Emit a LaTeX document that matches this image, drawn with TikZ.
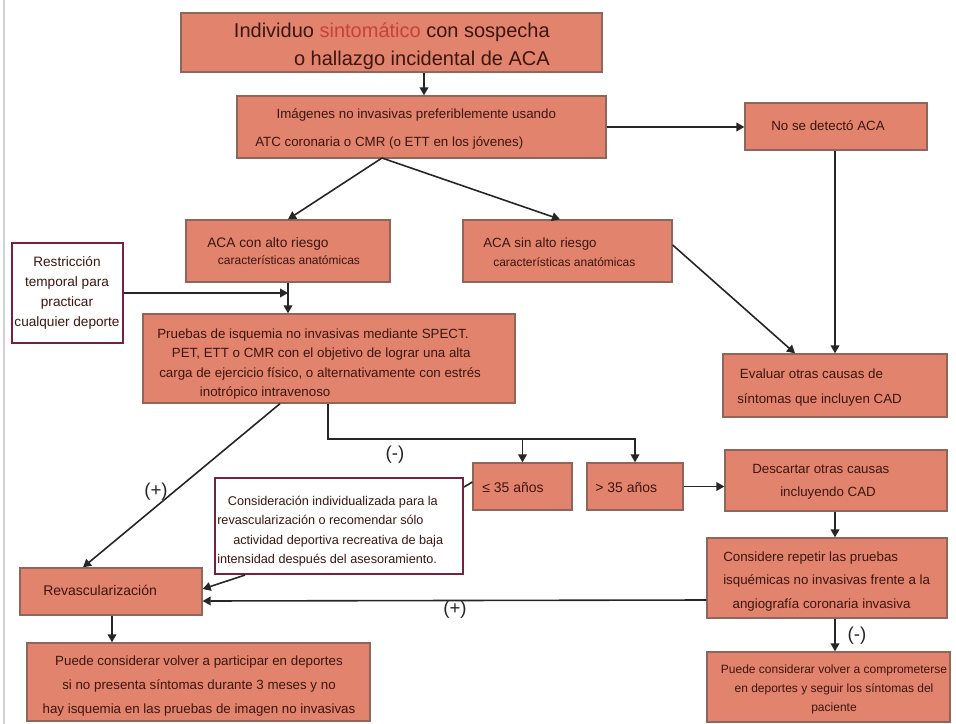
\documentclass[tikz,border=0pt]{standalone}
\usepackage{fontspec}
\setmainfont{Liberation Sans}
\usetikzlibrary{fit,arrows.meta}

\definecolor{boxfill}{HTML}{E2836D}
\definecolor{boxline}{HTML}{8E665C}
\definecolor{ink}{HTML}{3C160F}
\definecolor{redword}{HTML}{C8413A}
\definecolor{noteline}{HTML}{7A1F3D}

\tikzset{
  box/.style={draw=boxline, fill=boxfill, line width=1pt, inner sep=0pt},
  notebox/.style={draw=noteline, fill=white, line width=1.6pt, inner sep=0pt},
  txt/.style={inner sep=0pt, text=ink, font=\fontsize{10}{14.5}\selectfont},
  lbl/.style={inner sep=0pt, text=black!85, font=\fontsize{14}{16}\selectfont},
  arr/.style={draw=black!85, line width=1.2pt, -{Triangle[length=6pt,width=6.5pt]}},
  plain/.style={draw=black!85, line width=1.2pt}
}

\begin{document}
\begin{tikzpicture}[x=0.75pt, y=-0.75pt]
\useasboundingbox (0,0) rectangle (956,724);
\draw[black!18, line width=0.8pt] (4,0) -- (4,724);

% boxes
\node[box, fit={(181,13) (602,72)}] (top) {};
\node[box, fit={(237,96) (606,158)}] (img) {};
\node[box, fit={(745,103) (927,150)}] (nodet) {};
\node[box, fit={(186,220) (390,282)}] (acacon) {};
\node[box, fit={(463,220) (672,282)}] (acasin) {};
\node[notebox, fit={(12,243) (123,343)}] (restr) {};
\node[box, fit={(143,314) (515,403)}] (pruebas) {};
\node[box, fit={(723,354) (947,417)}] (evaluar) {};
\node[box, fit={(473,463) (572,510)}] (le35) {};
\node[box, fit={(587,463) (683,510)}] (gt35) {};
\node[box, fit={(725,450) (947,511)}] (descartar) {};
\node[box, fit={(707,538) (947,618)}] (considere) {};
\node[box, fit={(707,652) (950,722)}] (puede2) {};
\node[notebox, fit={(215,478) (463,574)}] (consid) {};
\node[box, fit={(20,568) (202,615)}] (revasc) {};
\node[box, fit={(27,643) (370,721)}] (puede1) {};

% texts
\node[txt, font=\fontsize{15}{21}\selectfont, align=right, anchor=east] (topt) at (550,46)
  {Individuo \textcolor{redword}{sintomático} con sospecha\\o hallazgo incidental de ACA};
\node[txt, font=\fontsize{10}{21}\selectfont, align=left, anchor=west] (imgt) at (255,129)
  {\hspace*{16pt}Imágenes no invasivas preferiblemente usando\\ATC coronaria o CMR (o ETT en los jóvenes)};
\node[txt] (nodett) at (828,126) {No se detectó ACA};
\node[txt, font=\fontsize{10.3}{12.75}\selectfont, align=left, anchor=west] (acacont) at (207,251.5)
  {ACA con alto riesgo\\\hspace*{8pt}{\fontsize{9}{12.75}\selectfont características anatómicas}};
\node[txt, font=\fontsize{10}{14}\selectfont, align=left, anchor=west] (acasint) at (483,252.5)
  {ACA sin alto riesgo\\\hspace*{7.5pt}{\fontsize{9}{14}\selectfont características anatómicas}};
\node[txt, font=\fontsize{10.2}{15}\selectfont, align=center] (restrt) at (67,293)
  {Restricción\\temporal para\\practicar\\cualquier deporte};
\node[txt, font=\fontsize{10}{14.5}\selectfont, align=left, anchor=west] (pruebast) at (157,364)
  {Pruebas de isquemia no invasivas mediante SPECT.\\
   \hspace*{11pt}PET, ETT o CMR con el objetivo de lograr una alta\\
   \hspace*{1.5pt}carga de ejercicio físico, o alternativamente con estrés\\
   \hspace*{32pt}inotrópico intravenoso};
\node[txt, font=\fontsize{10}{18.75}\selectfont, align=left, anchor=west] (evaluart) at (737,387.5)
  {\hspace*{2pt}Evaluar otras causas de\\síntomas que incluyen CAD};
\node[txt, font=\fontsize{10.5}{12}\selectfont, anchor=west] (le35t) at (482,488) {≤ 35 años};
\node[txt, font=\fontsize{10.5}{12}\selectfont, anchor=west] (gt35t) at (595,488) {> 35 años};
\node[txt, font=\fontsize{10}{17.25}\selectfont, align=left, anchor=west] (descartart) at (752,481.5)
  {Descartar otras causas\\\hspace*{21pt}incluyendo CAD};
\node[txt, font=\fontsize{10}{17.5}\selectfont, align=left, anchor=west] (consideret) at (723,581.5)
  {Considere repetir las pruebas\\isquémicas no invasivas frente a la\\\hspace*{7pt}angiografía coronaria invasiva};
\node[txt, font=\fontsize{9}{14.25}\selectfont, align=center] (puede2t) at (834,689)
  {Puede considerar volver a comprometerse\\en deportes y seguir los síntomas del\\paciente};
\node[txt, font=\fontsize{9.5}{14.5}\selectfont, align=left, anchor=west] (considt) at (217,531)
  {\hspace*{8pt}Consideración individualizada para la\\
   revascularización o recomendar sólo\\
   \hspace*{12pt}actividad deportiva recreativa de baja\\
   intensidad después del asesoramiento.};
\node[txt, font=\fontsize{10.5}{12}\selectfont, anchor=west] (revasct) at (43,590) {Revascularización};
\node[txt, font=\fontsize{10}{18}\selectfont, align=center] (puede1t) at (199,686)
  {Puede considerar volver a participar en deportes\\si no presenta síntomas durante 3 meses y no\\hay isquemia en las pruebas de imagen no invasivas};

% branch labels
\node[lbl] (neg1) at (395,455) {(-)};
\node[lbl] (pos1) at (156,492) {(+)};
\node[lbl] (pos2) at (455,610) {(+)};
\node[lbl] (neg2) at (857,636) {(-)};

% connectors
\coordinate (split) at (382,158);
\draw[arr] (top.south -| 424,0) -- (img.north -| 424,0);
\draw[arr] (img.east) -- (nodet.west |- img.east);
\draw[arr] (split) -- (acacon.north);
\draw[arr] (split) -- (acasin.north -| 560,0);
\draw[arr] (nodet.south -| 835,0) -- (evaluar.north -| 835,0);
\draw[arr] (acasin.east |- 0,245) -- (evaluar.north -| 795,0);
\draw[arr] (restr.east) -- (restr.east -| acacon.south);
\draw[arr] (acacon.south) -- (pruebas.north -| acacon.south);
\draw[arr] (pruebas.south -| 328,0) |- (0,439 -| gt35.north) -- (gt35.north);
\draw[arr] (le35.north |- 0,439) -- (le35.north);
\draw[arr] (pruebas.south -| 280,0) -- (revasc.north -| 83,0);
\draw[arr] (gt35.east) -- (descartar.west |- gt35.east);
\draw[arr] (descartar.south -| 835,0) -- (considere.north -| 835,0);
\draw[arr] (considere.west |- 0,600) -- (revasc.east |- 0,601);
\draw[arr] (considere.south -| 835,0) -- (puede2.north -| 835,0);
\draw[arr] (consid.south -| 245,0) -- (revasc.east |- 0,589);
\draw[arr] (revasc.south -| 112,0) -- (puede1.north -| 112,0);
\draw[plain] (consid.east |- 0,487) -- (le35.west |- 0,482);
\end{tikzpicture}
\end{document}
